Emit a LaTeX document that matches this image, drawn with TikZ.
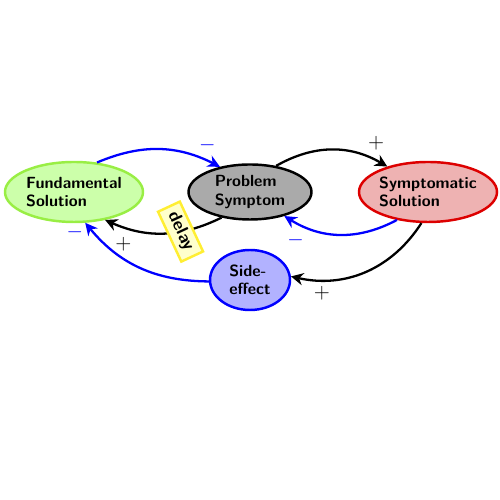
\documentclass[tikz,border=0pt]{standalone}
\usepackage{tikz}
\usetikzlibrary{arrows.meta, positioning, shapes.geometric}
\definecolor{fundfill}{HTML}{CCFFAA}
\definecolor{funddraw}{HTML}{99EE44}
\definecolor{probfill}{HTML}{AAAAAA}
\definecolor{symfill}{HTML}{EEB2B2}
\definecolor{symdraw}{HTML}{DD0000}
\definecolor{sidefill}{HTML}{B2B2FF}
\definecolor{delayfill}{HTML}{FFFFCC}
\definecolor{delaydraw}{HTML}{FFEE33}
\begin{document}
\begin{tikzpicture}[every node/.style={font=\sffamily\bfseries\fontsize{9.2}{10.5}\selectfont}]
\tikzset{loopnode/.style={ellipse, draw, line width=1.4pt, inner xsep=0pt, inner ysep=0pt, align=left},
  link/.style={-{Stealth[length=7pt,width=7pt]}, line width=1.3pt},
  sgn/.style={font=\large}}
\useasboundingbox (0,0) rectangle (10,10);
\node[loopnode, fill=fundfill, draw=funddraw, minimum width=2.76cm, minimum height=1.2cm] (fs) at (1.48,6.16) {Fundamental\\Solution};
\node[loopnode, fill=probfill, minimum width=2.46cm, minimum height=1.1cm] (ps) at (5.0,6.16) {Problem\\Symptom};
\node[loopnode, fill=symfill, draw=symdraw, minimum width=2.76cm, minimum height=1.2cm] (ss) at (8.56,6.16) {Symptomatic\\Solution};
\node[loopnode, fill=sidefill, draw=blue, minimum width=1.6cm, minimum height=1.2cm] (se) at (5.0,4.4) {Side-\\effect};
\draw[link, blue] (fs.52) to[bend left=25] node[pos=0.9, above=1pt, sgn]{$-$} (ps.140);
\draw[link] (ps.45) to[bend left=30] node[pos=0.9, above=2pt, sgn]{$+$} (ss.148);
\draw[link, blue] (ss.222) to[bend left=30] node[pos=0.9, below=2pt, sgn]{$-$} (ps.325);
\draw[link] (ps.222) to[bend left=25] node[pos=0.35, draw=delaydraw, fill=delayfill, line width=1.4pt, rotate=-65, minimum width=1.1cm, minimum height=0.48cm, inner sep=1pt, font=\sffamily\bfseries]{delay} node[pos=0.85, below=2pt, sgn]{$+$} (fs.318);
\draw[link] (ss.258) to[bend left=35] node[pos=0.9, below right=0pt, sgn]{$+$} (se.5);
\draw[link, blue] (se.182) to[bend left=25] node[pos=0.92, left=2pt, sgn]{$-$} (fs.290);
\end{tikzpicture}
\end{document}
